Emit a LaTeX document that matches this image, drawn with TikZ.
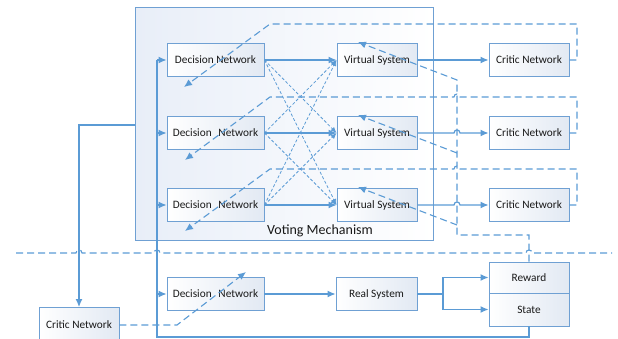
\documentclass[tikz,border=0pt]{standalone}
\usepackage{fontspec}
\setmainfont{Carlito}
\usetikzlibrary{arrows.meta,calc}
\definecolor{lc}{HTML}{5B9BD5}
\definecolor{bc}{HTML}{6FA0D3}
\definecolor{bf}{HTML}{E2E9F3}
\definecolor{vf}{HTML}{E8EEF8}
\begin{document}
\begin{tikzpicture}[x=1pt,y=-1pt,
 box/.style={draw=bc,line width=0.9pt,left color=white,right color=bf,minimum height=33pt,inner sep=1pt,font=\fontsize{11.3}{13}\selectfont,text=black!90},
 dnbox/.style={box,minimum width=97pt},
 sbox/.style={box,minimum width=80pt},
 arr/.style={draw=lc,line width=1.2pt,-{Latex[length=8pt,width=7pt]}},
 ln/.style={draw=lc,line width=1.2pt},
 fb/.style={draw=lc,line width=1.1pt,dash pattern=on 7pt off 4pt,-{Latex[length=8pt,width=7pt]}},
 fbl/.style={draw=lc,line width=1.1pt,dash pattern=on 7pt off 4pt},
 cr/.style={draw=lc,line width=0.8pt,dash pattern=on 3pt off 2pt,-{Latex[length=6pt,width=5pt]}},
]
\useasboundingbox (0,0) rectangle (618,339);
% voting mechanism container
\node[draw=bc,line width=0.9pt,left color=vf,right color=white,minimum width=298pt,minimum height=233pt,anchor=north west,inner sep=0pt] (vm) at (135,7) {};
\node[font=\fontsize{14}{16}\selectfont,text=black!90] (vml) at (320,231) {Voting Mechanism};
% nodes
\node[dnbox] (dn1) at (215.5,60) {Decision Network};
\node[dnbox] (dn2) at (215.5,133) {Decision\hspace{0.6em}Network};
\node[dnbox] (dn3) at (215.5,205) {Decision\hspace{0.6em}Network};
\node[dnbox] (dn4) at (215.5,294) {Decision\hspace{0.6em}Network};
\node[sbox] (vs1) at (377,60) {Virtual System};
\node[sbox] (vs2) at (377,133) {Virtual System};
\node[sbox] (vs3) at (377,205) {Virtual System};
\node[sbox] (cn1) at (529,60) {Critic Network};
\node[sbox] (cn2) at (529,133) {Critic Network};
\node[sbox] (cn3) at (529,205) {Critic Network};
\node[sbox,minimum width=81pt] (rs) at (376.5,294) {Real System};
\node[sbox,minimum height=31pt] (rw) at (529,277.5) {Reward};
\node[sbox] (st) at (529,309.5) {State};
\node[sbox,minimum height=35pt] (cn0) at (79,325) {Critic Network};
% solid arrows DN -> VS
\draw[arr] (dn1.east) -- (vs1.west);
\draw[arr] (dn2.east) -- (vs2.west);
\draw[arr] (dn3.east) -- (vs3.west);
% crossing dashed
\draw[cr] (dn1.east) -- (vs2.west);
\draw[cr] (dn1.east) -- (vs3.west);
\draw[cr] (dn2.east) -- (vs1.west);
\draw[cr] (dn2.east) -- (vs3.west);
\draw[cr] (dn3.east) -- (vs1.west);
\draw[cr] (dn3.east) -- (vs2.west);
% VS -> critic
\draw[arr] (vs1.east) -- (cn1.west);
\draw[arr] (vs2.east) -- (454,133) .. controls (454,129) and (460,129) .. (460,133) -- (cn2.west);
\draw[arr] (vs3.east) -- (454,205) .. controls (454,201) and (460,201) .. (460,205) -- (cn3.west);
% critic feedback dashed
\draw[fb] (cn1.east) -- (577,60) -- (577,24) -- (270,24) -- (184,87);
\draw[fb] (cn2.east) -- (577,133) -- (577,97) -- (460,97) .. controls (460,93) and (454,93) .. (454,97) -- (270,97) -- (185,160);
\draw[fb] (cn3.east) -- (577,205) -- (577,169) -- (460,169) .. controls (460,165) and (454,165) .. (454,169) -- (270,169) -- (185,231);
% reward feedback dashed
\coordinate (j1) at (457,80);
\coordinate (j2) at (457,153);
\coordinate (j3) at (457,225);
\coordinate (t1) at (358,42);
\coordinate (t2) at (358,115);
\coordinate (t3) at (358,187);
\draw[fb] (rw.north) -- (529,235) -- (457,235) -- (j1) -- (t1);
\draw[fb] (j2) -- (t2);
\draw[fb] (j3) -- (t3);
% horizontal separator
\coordinate (dl) at (16,253);
\coordinate (dr) at (612,253);
\draw[fbl] (dl) -- (76,253) .. controls (76,249) and (82,249) .. (82,253) -- (154,253) .. controls (154,249) and (160,249) .. (160,253) -- (526,253) .. controls (526,249) and (532,249) .. (532,253) -- (dr);
% voting -> bottom critic
\coordinate (vmo) at (vm.west |- 0,125);
\draw[arr] (vmo) -- (79,125) -- (cn0.north);
% bottom critic dashed to DN4
\coordinate (t4) at (246,272);
\draw[fb] (cn0.east) -- (177,325) -- (t4);
% state loop
\draw[ln] (st.south) -- (529,337) -- (157,337) -- (157,60);
\draw[arr] (157,60) -- (dn1.west);
\draw[arr] (157,133) -- (dn2.west);
\draw[arr] (157,205) -- (dn3.west);
\draw[arr] (157,294) -- (dn4.west);
% bottom flow
\draw[arr] (dn4.east) -- (rs.west);
\coordinate (sp) at (443,294);
\draw[ln] (rs.east) -- (sp);
\draw[arr] (sp) |- (rw.west);
\draw[arr] (sp) |- (st.west);
\end{tikzpicture}
\end{document}
